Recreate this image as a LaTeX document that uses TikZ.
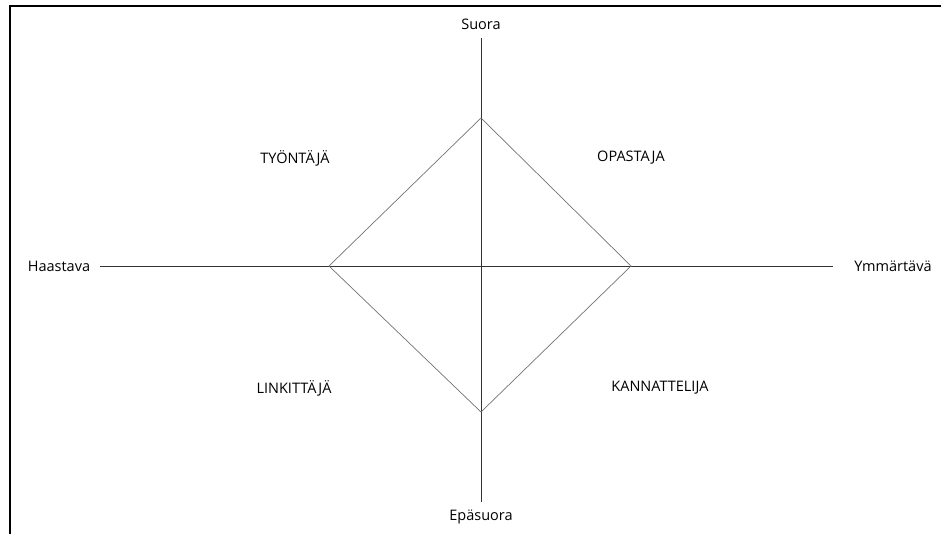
\documentclass[tikz,border=0pt]{standalone}
\usepackage{fontspec}
\setmainfont{Open Sans}
\begin{document}
\begin{tikzpicture}[x=1pt,y=-1pt,
  lbl/.style={font=\fontsize{14.5}{17}\selectfont, text=black, inner sep=1pt},
  axis/.style={draw=black!80, line width=0.9pt},
  dia/.style={draw=black!55, line width=0.7pt}]
\useasboundingbox (0,0) rectangle (941,533);
\draw[line width=2pt] (9.5,540) -- (9.5,5.5) -- (950,5.5);
\node[lbl] (suora) at (481,24) {Suora};
\node[lbl] (epa) at (481,517) {Epäsuora};
\node[lbl] (haas) at (59,266) {Haastava};
\node[lbl] (ymm) at (893,266) {Ymmärtävä};
\coordinate (ct) at (481,38);
\coordinate (cb) at (481,502);
\coordinate (cl) at (100,266);
\coordinate (cr) at (833,266);
\draw[axis] (ct) -- (cb);
\draw[axis] (cl) -- (cr);
\coordinate (dt) at (481,118);
\coordinate (dr) at (631,266);
\coordinate (db) at (481,412);
\coordinate (dl) at (329,266);
\draw[dia] (dt) -- (dr) -- (db) -- (dl) -- cycle;
\node[lbl] (tyo) at (295,158) {TYÖNTÄJÄ};
\node[lbl] (opa) at (631,158) {OPASTAJA};
\node[lbl] (lin) at (294,388) {LINKITTÄJÄ};
\node[lbl] (kan) at (660,388) {KANNATTELIJA};
\end{tikzpicture}
\end{document}
